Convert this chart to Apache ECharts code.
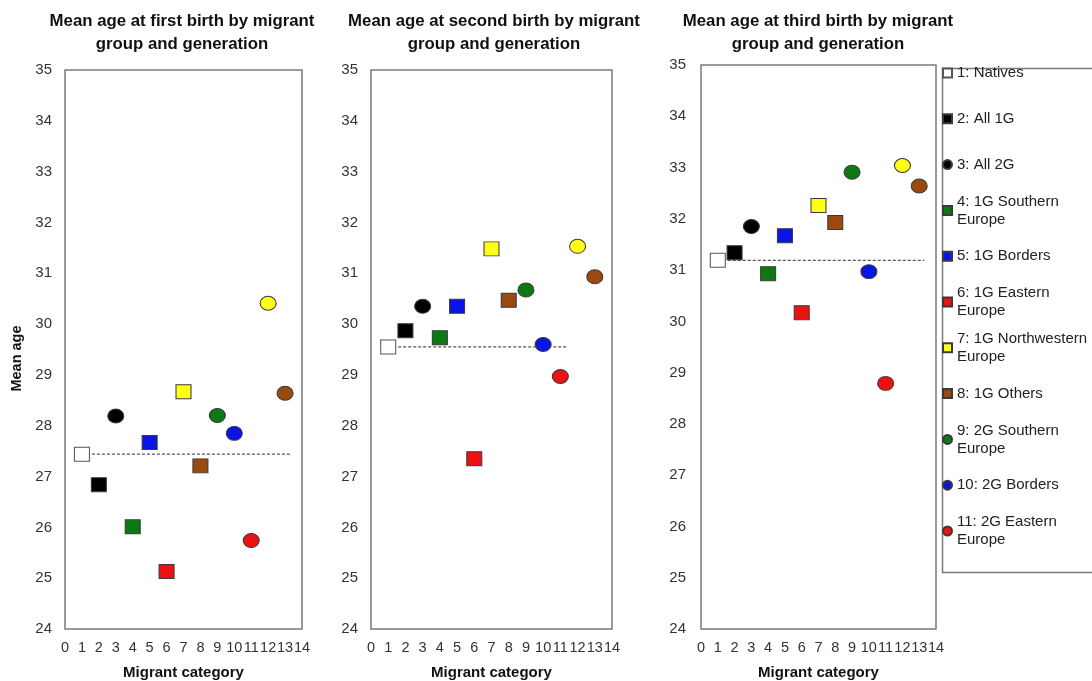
<!DOCTYPE html>
<html>
<head>
<meta charset="utf-8">
<script src="https://cdn.jsdelivr.net/npm/echarts@6/dist/echarts.min.js"></script>
<style>html,body{margin:0;padding:0;background:#fff}#c{width:1092px;height:681px}</style>
</head>
<body>
<div id="c"></div>
<script>
// ---- data ----
const categories = ['1: Natives', '2: All 1G', '3: All 2G', '4: 1G Southern\nEurope', '5: 1G Borders',
  '6: 1G Eastern\nEurope', '7: 1G Northwestern\nEurope', '8: 1G Others', '9: 2G Southern\nEurope',
  '10: 2G Borders', '11: 2G Eastern\nEurope', '12: 2G Northwestern Europe', '13: 2G Others'];
const categoryX = [1, 2, 3, 4, 5, 6, 7, 8, 9, 10, 11, 12, 13];
const firstBirth  = [27.44, 26.84, 28.19, 26.01, 27.67, 25.13, 28.67, 27.21, 28.20, 27.85, 25.74, 30.41, 28.64];
const secondBirth = [29.55, 29.87, 30.35, 29.73, 30.35, 27.35, 31.48, 30.47, 30.67, 29.60, 28.97, 31.53, 30.93];
const thirdBirth  = [31.19, 31.34, 31.85, 30.93, 31.67, 30.17, 32.26, 31.93, 32.91, 30.97, 28.79, 33.04, 32.64];
const panelTitles = ['Mean age at first birth by migrant\ngroup and generation',
  'Mean age at second birth by migrant\ngroup and generation',
  'Mean age at third birth by migrant\ngroup and generation'];
const refLineEnd = [13.3, 11.4, 13.3];
const legendCount = 11;

// ---- styles ----
const colors = ['#ffffff', '#000000', '#000000', '#0c7a12', '#0a14e6', '#ee1111', '#ffff14', '#9a4a0e',
  '#0c7a12', '#0a14e6', '#ee1111', '#ffff14', '#9a4a0e'];
const symbols = ['rect', 'rect', 'circle', 'rect', 'rect', 'rect', 'rect', 'rect', 'circle', 'circle', 'circle', 'circle', 'circle'];
const panels = [firstBirth, secondBirth, thirdBirth];
const grids = [
  {left: 65, top: 70, width: 237, height: 559},
  {left: 371, top: 70, width: 241, height: 559},
  {left: 701, top: 65, width: 235, height: 564}
];
const titleCenters = [182, 494, 818];
const font = "'Liberation Sans', Arial, sans-serif";

const option = {
  animation: false,
  backgroundColor: '#fff',
  grid: grids.map(g => Object.assign({show: true, borderColor: '#7a7a7a', borderWidth: 1.5,
    backgroundColor: '#fff', containLabel: false, outerBoundsMode: 'none'}, g)),
  xAxis: grids.map((g, i) => ({
    type: 'value', gridIndex: i, min: 0, max: 14, interval: 1,
    name: 'Migrant category', nameLocation: 'middle', nameGap: 36,
    nameTextStyle: {fontFamily: font, fontWeight: 'bold', fontSize: 15, color: '#111'},
    axisLine: {show: false}, axisTick: {show: false}, splitLine: {show: false},
    axisLabel: {fontFamily: font, fontSize: 14.5, color: '#333', margin: 11, showMinLabel: true, showMaxLabel: true}
  })),
  yAxis: grids.map((g, i) => ({
    type: 'value', gridIndex: i, min: 24, max: 35, interval: 1,
    name: i === 0 ? 'Mean age' : '', nameLocation: 'middle', nameGap: 41, nameRotate: 90,
    nameTextStyle: {fontFamily: font, fontWeight: 'bold', fontSize: 14.5, color: '#111', padding: [0, 18, 0, 0]},
    axisLine: {show: false}, axisTick: {show: false}, splitLine: {show: false},
    axisLabel: {fontFamily: font, fontSize: 15, color: '#333', margin: i === 2 ? 15 : 13}
  })),
  legend: {
    orient: 'vertical', left: 942, top: 46, padding: 0, itemGap: -8.2,
    itemWidth: 9, itemHeight: 9,
    textStyle: {fontFamily: font, fontSize: 15, color: '#222', lineHeight: 18},
    data: categories.slice(0, legendCount).map(n => ({
      name: n,
      textStyle: {fontFamily: font, padding: n.indexOf('\n') >= 0 ? [18, 0, 0, 0] : [18, 0, 18, 0]}
    }))
  },
  graphic: [
    {type: 'rect', left: 940, top: 66, shape: {width: 170, height: 504},
     style: {fill: 'none', stroke: '#7a7a7a', lineWidth: 1.5}, silent: true, z: -1}
  ].concat(panelTitles.map((t, i) => ({
    type: 'text', x: titleCenters[i], y: 10,
    style: {text: t, align: 'center', verticalAlign: 'top', fontFamily: font, fontWeight: 'bold',
      fontSize: 16.8, lineHeight: 23, fill: '#111'}
  }))),
  series: []
};

panels.forEach((vals, p) => {
  option.series.push({
    type: 'line', name: 'natives-ref-' + p, xAxisIndex: p, yAxisIndex: p, silent: true,
    symbol: 'none', z: 1,
    lineStyle: {color: '#555', width: 1.3, type: [3, 2]},
    data: [[categoryX[0], vals[0]], [refLineEnd[p], vals[0]]]
  });
  categories.forEach((name, i) => {
    option.series.push({
      type: 'scatter', name: name, xAxisIndex: p, yAxisIndex: p, z: 3,
      symbol: symbols[i], symbolSize: symbols[i] === 'rect' ? [15, 14] : [16, 14],
      itemStyle: {color: colors[i], borderColor: i === 0 ? '#555' : '#3a3a3a', borderWidth: 1, opacity: 1},
      data: [[categoryX[i], vals[i]]]
    });
  });
});

const chart = echarts.init(document.getElementById('c'), null, {renderer: 'canvas'});
chart.setOption(option);
</script>
</body>
</html>
